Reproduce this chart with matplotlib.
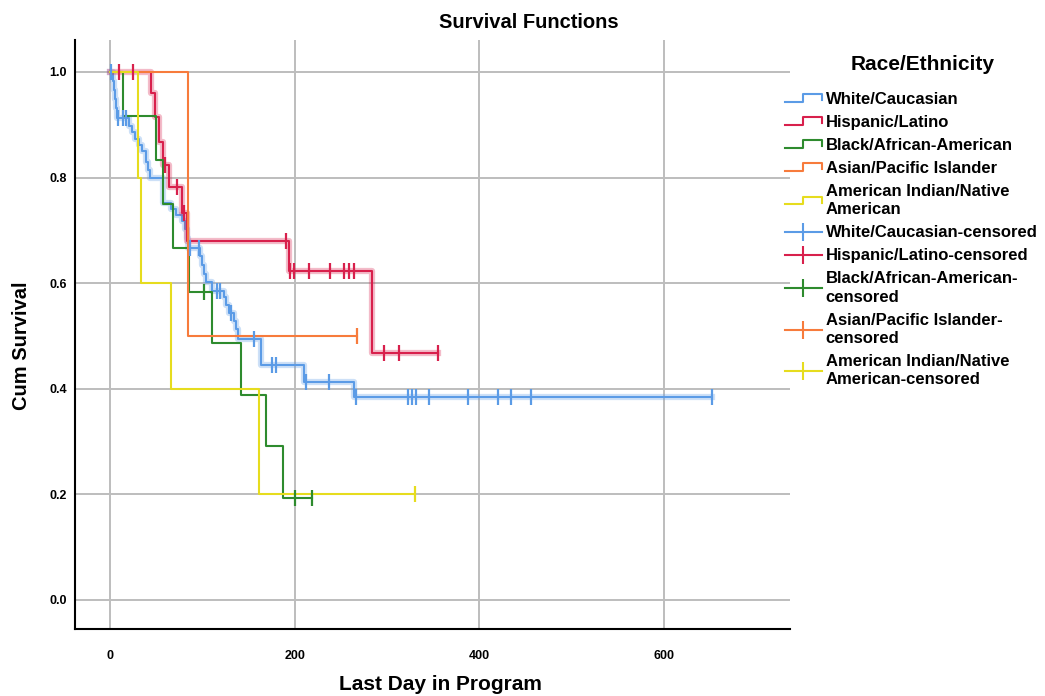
import numpy as np
import matplotlib
matplotlib.use("Agg")
import matplotlib.pyplot as plt
from matplotlib.lines import Line2D
from matplotlib.legend_handler import HandlerBase
from matplotlib import patheffects as pe

FONT = ["Liberation Sans Narrow", "Liberation Sans", "DejaVu Sans"]
plt.rcParams["font.family"] = FONT
plt.rcParams["font.weight"] = "bold"

groups = ["White/Caucasian", "Hispanic/Latino", "Black/African-American",
          "Asian/Pacific Islander", "American Indian/Native\nAmerican"]
censor_labels = ["White/Caucasian-censored", "Hispanic/Latino-censored",
                 "Black/African-American-\ncensored", "Asian/Pacific Islander-\ncensored",
                 "American Indian/Native\nAmerican-censored"]
colors = ["#5b9be6", "#d8204c", "#2e8b2e", "#f77b3c", "#e6dc1e"]

# event days and survival after each event
white_days = [3, 4, 5, 6, 8, 20, 24, 27, 31, 35, 39, 41, 43, 57, 66, 72, 78, 81, 83, 85,
              98, 100, 102, 104, 110, 123, 126, 129, 134, 136, 139, 164, 210, 264]
white_surv = [0.983, 0.966, 0.949, 0.932, 0.912, 0.898, 0.886, 0.874, 0.862, 0.850, 0.830,
              0.815, 0.800, 0.751, 0.740, 0.730, 0.718, 0.702, 0.686, 0.667,
              0.652, 0.635, 0.618, 0.603, 0.586, 0.573, 0.558, 0.543, 0.528, 0.513, 0.494,
              0.445, 0.413, 0.384]
white_cens = [1, 9, 14, 17, 87, 96, 116, 119, 131, 156, 175, 180, 212, 237,
              267, 323, 327, 332, 346, 388, 420, 435, 456, 652]

hisp_days = [44, 49, 53, 57, 64, 78, 83, 194, 284]
hisp_surv = [0.96, 0.915, 0.868, 0.824, 0.783, 0.732, 0.679, 0.623, 0.467]
hisp_cens = [10, 25, 60, 73, 80, 191, 195, 199, 216, 238, 254, 259, 264, 297, 313, 356]

black_days = [14, 50, 57, 68, 86, 111, 142, 169, 187]
black_surv = [0.917, 0.833, 0.75, 0.667, 0.583, 0.486, 0.389, 0.292, 0.194]
black_cens = [102, 200, 219]

asian_days = [85]
asian_surv = [0.5]
asian_cens = [268]

amind_days = [30, 34, 66, 161]
amind_surv = [0.8, 0.6, 0.4, 0.2]
amind_cens = [331]

data = [(white_days, white_surv, white_cens), (hisp_days, hisp_surv, hisp_cens),
        (black_days, black_surv, black_cens), (asian_days, asian_surv, asian_cens),
        (amind_days, amind_surv, amind_cens)]


class StepHandler(HandlerBase):
    def create_artists(self, legend, orig_handle, xdescent, ydescent, width, height,
                       fontsize, trans):
        x = np.array([0, 0.5, 0.5, 1.0, 1.0]) * width - xdescent
        y = np.array([0.2, 0.2, 0.85, 0.85, 0.35]) * height - ydescent
        ln = Line2D(x, y, color=orig_handle.get_color(), lw=1.5, transform=trans)
        return [ln]


fig = plt.figure(figsize=(10.45, 6.96), dpi=100)
ax = fig.add_axes([75 / 1045, 1 - 629 / 696, 715 / 1045, 589 / 696])
ax.set_xlim(-38, 737)
ax.set_ylim(-0.055, 1.0606)

for (days, surv, cens), c in zip(data, colors):
    end = max(max(cens), max(days))
    xs = [0] + days + [end]
    ys = [1.0] + surv + [surv[-1]]
    halo = c in (colors[0], colors[1])
    effects = [pe.Stroke(linewidth=4.5, foreground=c, alpha=0.3), pe.Normal()] if halo else None
    ax.step(xs, ys, where="post", color=c, lw=1.5, zorder=3, path_effects=effects)
    idx = np.searchsorted(days, cens, side="right")
    cy = np.concatenate([[1.0], surv])[idx]
    ax.plot(cens, cy, ls="none", marker="|", ms=11, mew=1.6, color=c, zorder=4)

ax.set_xticks([0, 200, 400, 600])
ax.set_yticks(np.arange(0, 1.01, 0.2))
ax.set_yticklabels([f"{v:.1f}" for v in np.arange(0, 1.01, 0.2)])
ax.tick_params(length=0, labelsize=9)
ax.tick_params(axis="x", pad=15)
ax.tick_params(axis="y", pad=6)
ax.grid(True, color="#bdbdbd", lw=1.4)
ax.set_axisbelow(True)
for s in ["top", "right"]:
    ax.spines[s].set_visible(False)
for s in ["left", "bottom"]:
    ax.spines[s].set_linewidth(1.5)

fig.text(529 / 1045, 1 - 22 / 696, "Survival Functions", ha="center", va="center",
         fontsize=14.5, fontweight="bold")
fig.text(440 / 1045, 1 - 685 / 696, "Last Day in Program", ha="center", va="center",
         fontsize=15, fontweight="bold")
fig.text(22 / 1045, 1 - 346 / 696, "Cum Survival", ha="center", va="center",
         rotation=90, fontsize=14.5, fontweight="bold")
fig.text(923 / 1045, 1 - 64 / 696, "Race/Ethnicity", ha="center", va="center",
         fontsize=15, fontweight="bold")

step_handles = [Line2D([], [], color=c) for c in colors]
cens_handles = [Line2D([], [], color=c, lw=1.5, marker="|", ms=13, mew=1.5) for c in colors]
handler_map = {h: StepHandler() for h in step_handles}
leg = fig.legend(step_handles + cens_handles, groups + censor_labels,
                 loc="upper left", bbox_to_anchor=(785 / 1045, 1 - 92 / 696),
                 frameon=False, fontsize=12, borderpad=0,
                 handlelength=2.2, handletextpad=0.25, labelspacing=0.48,
                 numpoints=1, handler_map=handler_map, borderaxespad=0)
for t in leg.get_texts():
    t.set_linespacing(1.28)

fig.savefig("out.png", dpi=100)
